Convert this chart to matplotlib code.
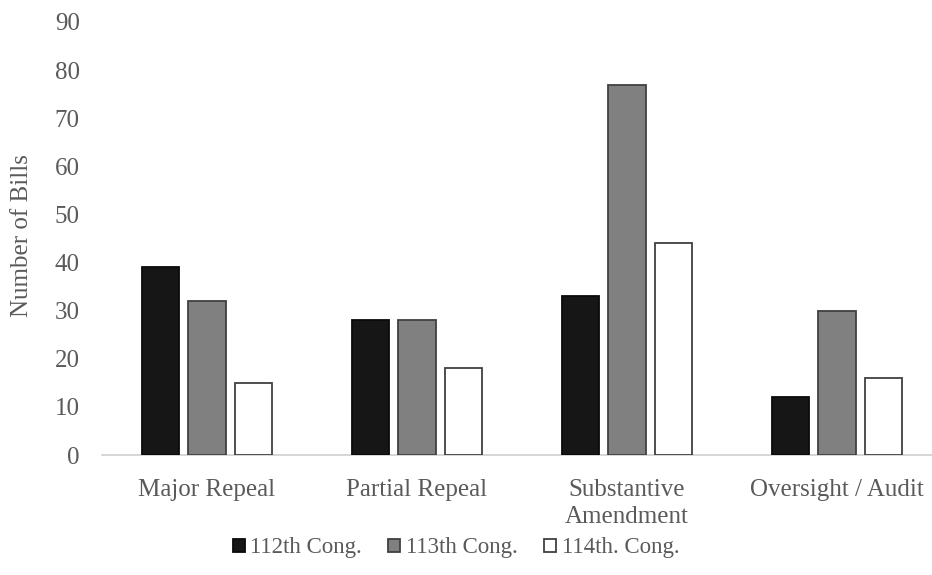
import matplotlib
matplotlib.use("Agg")
import matplotlib.pyplot as plt
import numpy as np

categories = ["Major Repeal", "Partial Repeal", "Substantive\nAmendment", "Oversight / Audit"]
series_names = ["112th Cong.", "113th Cong.", "114th. Cong."]
v112 = [39, 28, 33, 12]
v113 = [32, 28, 77, 30]
v114 = [15, 18, 44, 16]
yticks = [0, 10, 20, 30, 40, 50, 60, 70, 80, 90]

plt.rcParams['font.family'] = ['Liberation Serif', 'DejaVu Serif']
text_color = '#5a5a5a'

W, H = 932, 575
fig = plt.figure(figsize=(W/100, H/100), dpi=100)
left = 102 / W
bottom = (H - 455) / H
top = (H - 22) / H
ax = fig.add_axes([left, bottom, 1 - left, top - bottom])

x = np.arange(len(categories))
bw = 0.177
step = 0.22
fills = ['#161616', '#808080', '#ffffff']
edges = ['#0a0a0a', '#404040', '#404040']
for i, (vals, name) in enumerate(zip([v112, v113, v114], series_names)):
    ax.bar(x + (i - 1) * step, vals, width=bw, color=fills[i], edgecolor=edges[i],
           linewidth=1.3, label=name, zorder=3)

ax.set_xlim(-0.5, -0.5 + (W - 102) / 210)
ax.set_ylim(0, 90)
ax.set_yticks(yticks)
ax.set_xticks(x)
ax.set_xticklabels(categories, fontsize=18, color=text_color, linespacing=1.3)
ax.tick_params(axis='x', length=0, colors=text_color, labelsize=18, pad=17)
ax.tick_params(axis='y', length=0, colors=text_color, labelsize=18, pad=16)
for s in ['top', 'right', 'left']:
    ax.spines[s].set_visible(False)
ax.spines['bottom'].set_color('#d0d0d0')
ax.spines['bottom'].set_linewidth(1.2)

fig.text(22 / W, (H - 236) / H, "Number of Bills", rotation=90, ha='center', va='center',
         fontsize=18, color=text_color)

leg = fig.legend(loc='center', bbox_to_anchor=(456 / W, (H - 548) / H), ncol=3, frameon=False,
                 fontsize=16.5, handlelength=0.52, handleheight=0.52, handletextpad=0.25,
                 columnspacing=1.15)
for t in leg.get_texts():
    t.set_color(text_color)

fig.savefig("out.png", dpi=100)
